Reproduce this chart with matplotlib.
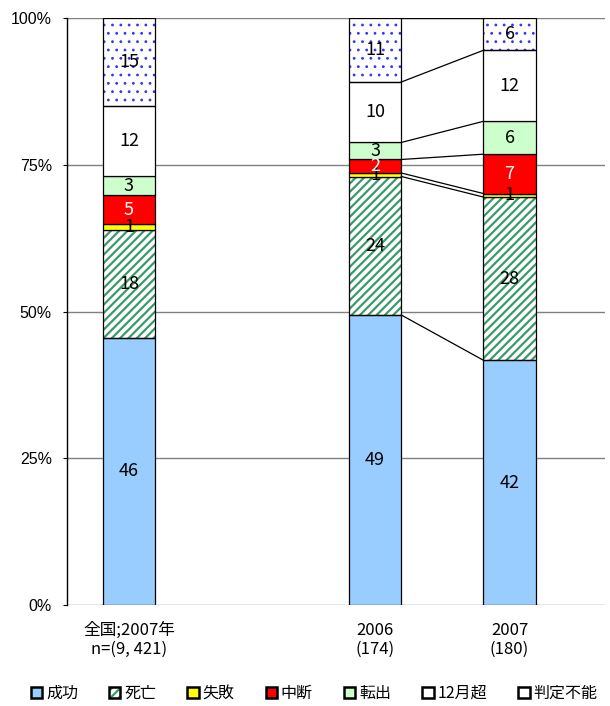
import matplotlib.pyplot as plt
from matplotlib.patches import Patch
import numpy as np

plt.rcParams['font.family'] = ['Noto Sans CJK JP', 'DejaVu Sans']
plt.rcParams['hatch.linewidth'] = 1.6

groups = ['全国;2007年\nn=(9, 421)', '2006\n(174)', '2007\n(180)']
items = ['成功', '死亡', '失敗', '中断', '転出', '12月超', '判定不能']

zenkoku = [45.5, 18.4, 1.0, 4.9, 3.3, 11.9, 15.0]
y2006 = [49.4, 23.6, 0.6, 2.3, 2.9, 10.3, 10.9]
y2007 = [41.7, 27.8, 0.6, 6.7, 5.6, 12.1, 5.5]
lab_zenkoku = [46, 18, 1, 5, 3, 12, 15]
lab_2006 = [49, 24, 1, 2, 3, 10, 11]
lab_2007 = [42, 28, 1, 7, 6, 12, 6]

yticks = [0, 25, 50, 75, 100]
ytick_labels = ['0%', '25%', '50%', '75%', '100%']

# styles
face = ['#99CCFF', 'white', '#FFFF00', '#FF0000', '#CCFFCC', 'white', 'white']
hatches = [None, '////', None, None, None, None, '..']
hatchcol = [None, '#3A9A6A', None, None, None, None, '#3333FF']
hatchlw = [None, 1.6, None, None, None, None, 0.8]
textcol = ['black', 'black', 'black', 'white', 'black', 'black', 'black']

fig, ax = plt.subplots(figsize=(6.1, 7.06), dpi=100)
fig.subplots_adjust(left=0.11, right=0.992, bottom=0.143, top=0.9745)

xpos = np.array([0.46, 2.29, 3.29])
w = 0.39
data = np.array([zenkoku, y2006, y2007])
labs = [lab_zenkoku, lab_2006, lab_2007]

bottoms = np.zeros(3)
for k in range(len(items)):
    vals = data[:, k]
    if hatches[k]:
        with plt.rc_context({'hatch.linewidth': hatchlw[k]}):
            ax.bar(xpos, vals, w, bottom=bottoms, color=face[k], edgecolor=hatchcol[k],
                   hatch=hatches[k], lw=0, zorder=2)
        ax.bar(xpos, vals, w, bottom=bottoms, color='none', edgecolor='black', lw=0.9, zorder=3)
    else:
        ax.bar(xpos, vals, w, bottom=bottoms, color=face[k], edgecolor='black', lw=0.9, zorder=3)
    for i in range(3):
        ax.text(xpos[i], bottoms[i] + vals[i] / 2, str(labs[i][k]), ha='center', va='center',
                color=textcol[k], fontsize=13, zorder=4)
    bottoms += vals

# series lines between the two right bars
cum = np.cumsum(data, axis=1)
for k in range(len(items)):
    ax.plot([xpos[1] + w / 2, xpos[2] - w / 2], [cum[1, k], cum[2, k]], color='black', lw=0.9, zorder=3)

ax.set_xlim(0, 4)
ax.set_ylim(0, 100)
ax.set_yticks(yticks)
ax.set_yticklabels(ytick_labels, fontfamily='Liberation Sans', fontsize=11.5)
ax.set_xticks(xpos)
ax.set_xticklabels(groups, fontsize=12, linespacing=1.15)
ax.tick_params(axis='x', length=0, pad=12)
ax.tick_params(axis='y', length=3, pad=8)
ax.yaxis.grid(True, color='#808080', lw=1)
ax.set_axisbelow(True)
for s in ['top', 'right', 'bottom']:
    ax.spines[s].set_visible(False)
ax.spines['left'].set_linewidth(1)

handles = []
for k in range(len(items)):
    if k == 1:
        handles.append((Patch(facecolor='white', edgecolor=hatchcol[k], hatch=hatches[k], lw=0),
                        Patch(facecolor='none', edgecolor='black', lw=1.8)))
    else:
        handles.append(Patch(facecolor=face[k], edgecolor='black', lw=1.8))
fig.legend(handles, items, loc='center', bbox_to_anchor=(0.515, 0.018), ncol=7, frameon=False,
           fontsize=11.5, handlelength=0.7, handleheight=0.7, handletextpad=0.25, columnspacing=1.95)

fig.savefig('out.png', dpi=100)
